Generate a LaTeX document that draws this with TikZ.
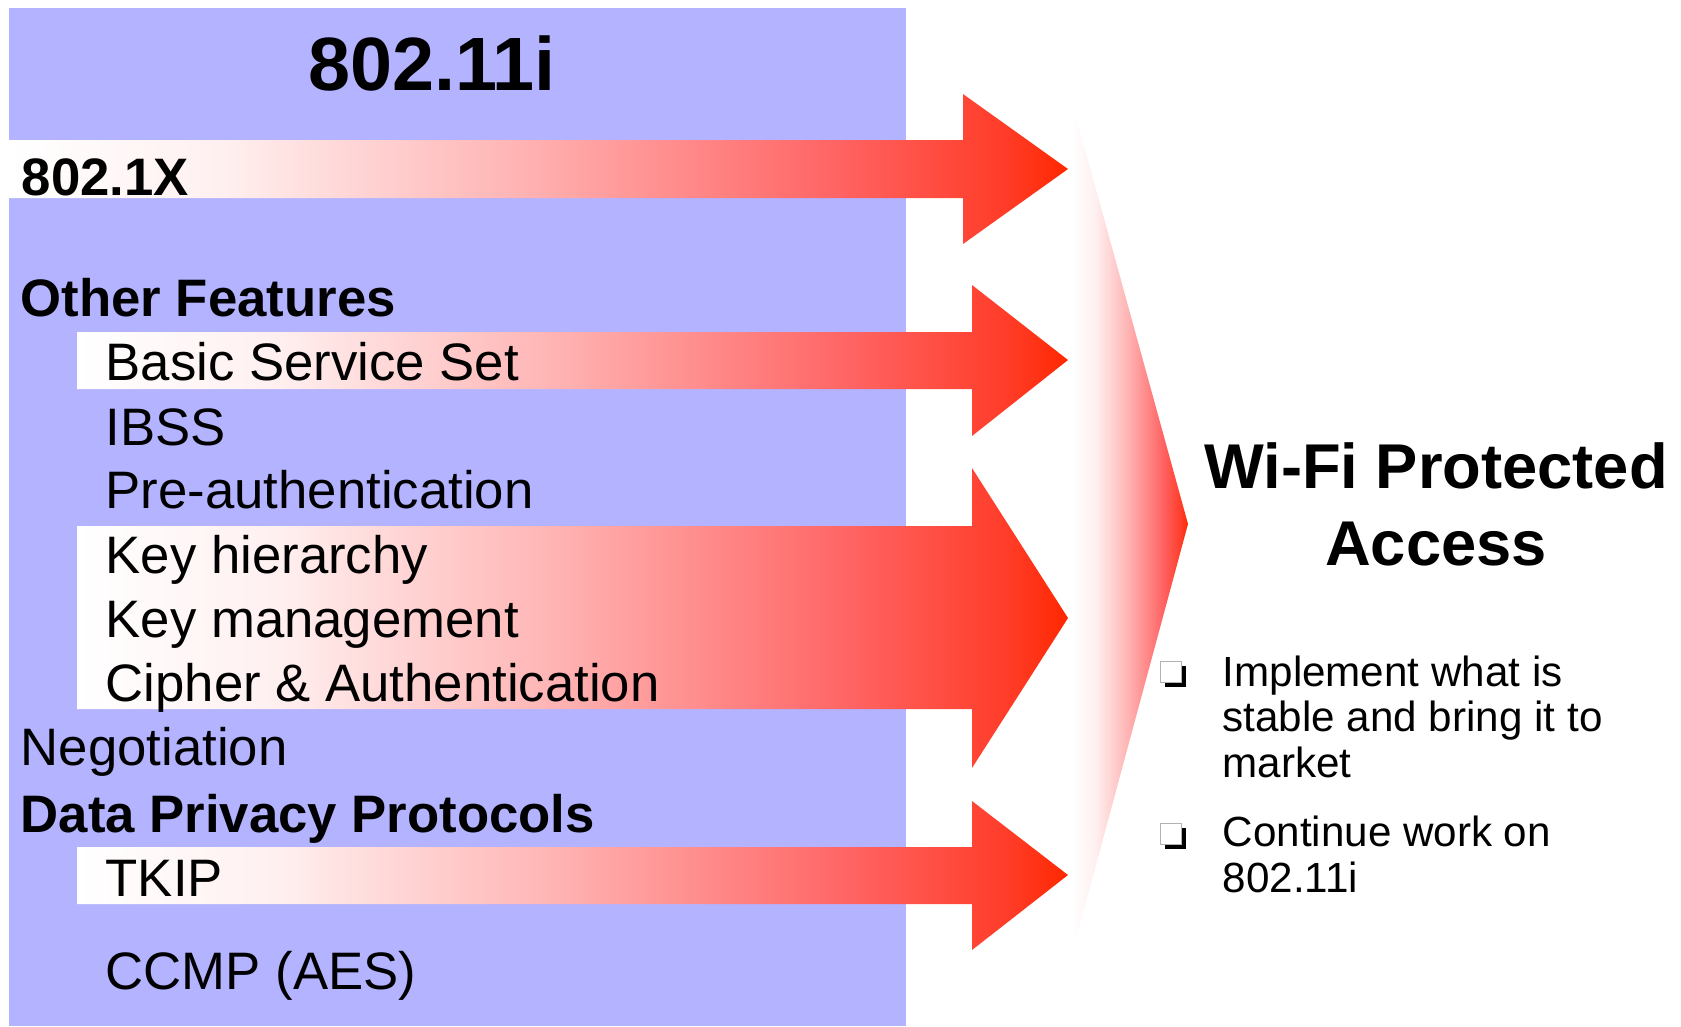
\documentclass[tikz,border=0pt]{standalone}
\usepackage{fontspec}
\setmainfont{Liberation Sans}
\usetikzlibrary{shadows}
\definecolor{panelblue}{RGB}{179,179,255}
\definecolor{hotred}{RGB}{255,40,0}
\definecolor{fadeA}{RGB}{255,240,240}
\definecolor{fadeB}{RGB}{255,180,180}
\definecolor{fadeC}{RGB}{255,100,100}
\definecolor{fadeD}{RGB}{255,60,40}
\pgfdeclarehorizontalshading{redfade}{100bp}{color(0bp)=(white); color(25bp)=(white);
  color(35bp)=(fadeA); color(49bp)=(fadeB); color(64bp)=(fadeC); color(72bp)=(fadeD);
  color(75bp)=(hotred); color(100bp)=(hotred)}
\begin{document}
\begin{tikzpicture}[x=0.1mm,y=-0.1mm,
  txt/.style={anchor=base west,inner sep=0pt,font=\fontsize{15}{18}\selectfont},
  bold/.style={anchor=base west,inner sep=0pt,font=\fontsize{15}{18}\selectfont\bfseries},
  bullet/.style={anchor=base west,inner sep=0pt,align=left,font=\fontsize{12}{12.9}\selectfont},
  box/.style={draw=gray!60,fill=white,minimum size=6pt,inner sep=0pt,line width=.4pt,
    drop shadow={shadow xshift=1.2pt,shadow yshift=-1.2pt,fill=black,opacity=1}}]
\useasboundingbox (0,0) rectangle (1681,1026);
\fill[panelblue] (9,8) rectangle (906,1026);
% fat arrows: shaft x/top/bottom, head base/top/bottom, tip height
\foreach \xa/\ya/\yb/\xb/\ha/\hb/\yt in {9/140/198/963/94/244/169, 77/332/389/972/285/436/360,
    77/526/709/972/468/768/618, 77/847/904/972/801/950/875}
  \shade[shading=redfade] (\xa,\ya) -- (\xb,\ya) -- (\xb,\ha) -- (1068,\yt) -- (\xb,\hb) -- (\xb,\yb) -- (\xa,\yb) -- cycle;
\shade[shading=redfade] (1072,102) -- (1188,524) -- (1072,954) -- cycle;
\node[anchor=base,inner sep=0pt,font=\fontsize{21.5}{24}\selectfont\bfseries] (title) at (432,90) {802.11i};
\node[bold] (dotx) at (21,195) {802.1X};
\node[bold] (other) at (20,316) {Other Features};
\foreach \n/\y/\t in {1/380/Basic Service Set, 2/445/IBSS, 3/508/Pre-authentication, 4/573/Key hierarchy,
    5/637/Key management, 6/701/Cipher \& Authentication, 7/896/TKIP, 8/989/CCMP (AES)}
  \node[txt] (f\n) at (105,\y) {\t};
\node[txt] (nego) at (20,765) {Negotiation};
\node[bold] (privacy) at (20,832) {Data Privacy Protocols};
\node[anchor=base,inner sep=0pt,font=\fontsize{18}{22}\selectfont\bfseries] (wpa) at (1436,488) {Wi-Fi Protected};
\node[anchor=base,inner sep=0pt,font=\fontsize{18}{22}\selectfont\bfseries] (access) at (1436,565) {Access};
\node[box] (b1) at (1171,672) {};
\node[box] (b2) at (1171,834) {};
\node[bullet] (p1) at (1222,777) {Implement what is\\stable and bring it to\\market};
\node[bullet] (p2) at (1222,892) {Continue work on\\802.11i};
\end{tikzpicture}
\end{document}
